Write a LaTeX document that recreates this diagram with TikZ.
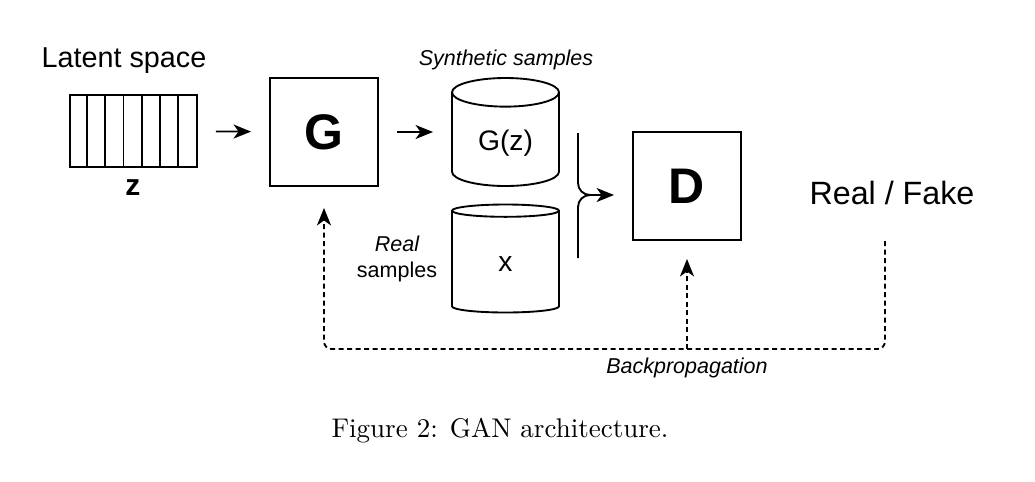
\documentclass[tikz,border=0pt]{standalone}
\usepackage{fontspec}
\newfontfamily\arial{Liberation Sans}
\usetikzlibrary{arrows.meta,shapes.geometric}

\begin{document}
\begin{tikzpicture}[x=0.4pt,y=-0.4pt]
	\tikzset{
	  block/.style = {draw, line width=0.75pt, minimum width=43.2pt, minimum height=43.2pt,
	                  font=\arial\fontsize{20}{24}\selectfont\bfseries},
	  store/.style = {draw, line width=0.75pt, cylinder, shape border rotate=90, aspect=0.4,
	                  minimum width=42.8pt, minimum height=43.2pt, anchor=shape center,
	                  font=\arial\fontsize{11.3}{13}\selectfont},
	  wire/.style = {line width=0.75pt},
	  flow/.style = {wire, -{Stealth[length=7pt,width=5.6pt,inset=2pt]}, shorten <=7.2pt, shorten >=7.2pt},
	  back/.style = {flow, dash pattern=on 2pt off 1.4pt, rounded corners=3pt},
	  note/.style = {font=\arial\itshape\fontsize{8.6}{10.5}\selectfont, align=center},
	  title/.style = {font=\arial\fontsize{11.5}{14}\selectfont} }
%	\draw[help lines] (0,0) grid[step=50] (1035,481);
	\useasboundingbox (0,0) rectangle (1035,481);
	% latent vector
	\node[title] (latent) at (124,61) {Latent space};
	\node[draw, wire, minimum width=50.8pt, minimum height=28.8pt] (vec) at (133.5,131) {};
	\foreach \i in {1,...,6}
	  \draw[wire] ([xshift=\i*7.257pt]vec.south west) -- ([xshift=\i*7.257pt]vec.north west);
	\node[font=\arial\bfseries\fontsize{12}{14}\selectfont] (zlab) at (133,188) {z};
	% generator and discriminator
	\node[block] (G) at (324,132) {G};
	\node[block] (D) at (687,186) {D};
	% samples
	\node[store] (syn) at (505.5,132) {G(z)};
	\node[store] (real) at (505.5,258.5) {x};
	\node[note] (synlab) at (506,60) {Synthetic samples};
	\node[note] (reallab) at (397,259) {Real\\\upshape samples};
	\node[font=\arial\fontsize{12.9}{15}\selectfont] (out) at (892,193) {Real / Fake};
	\node[note] (bplab) at (687,368) {Backpropagation};
	% forward pass
	\draw[flow] (vec) -- (G);
	\draw[flow] (G) -- (G -| syn.west);
	\coordinate (fork) at (590,195);
	\draw[wire] (578,133) -- (578,183) to[out=-90,in=180] (fork);
	\draw[wire] (578,258) -- (578,207) to[out=90,in=180] (fork);
	\draw[flow, shorten <=0pt] (fork) -- (D.west |- fork);
	% backward pass
	\coordinate (bp) at (687,349);
	\draw[back, shorten <=11pt, shorten >=8.4pt] ([xshift=-2.8pt]out.south) |- (bp) -| (G.south);
	\draw[back, shorten <=0pt] (bp) -- (D.south);
	% caption
	\node[font=\fontsize{10.8}{13}\selectfont] (cap) at (500,431) {Figure 2: GAN architecture.};
\end{tikzpicture}
\end{document}
